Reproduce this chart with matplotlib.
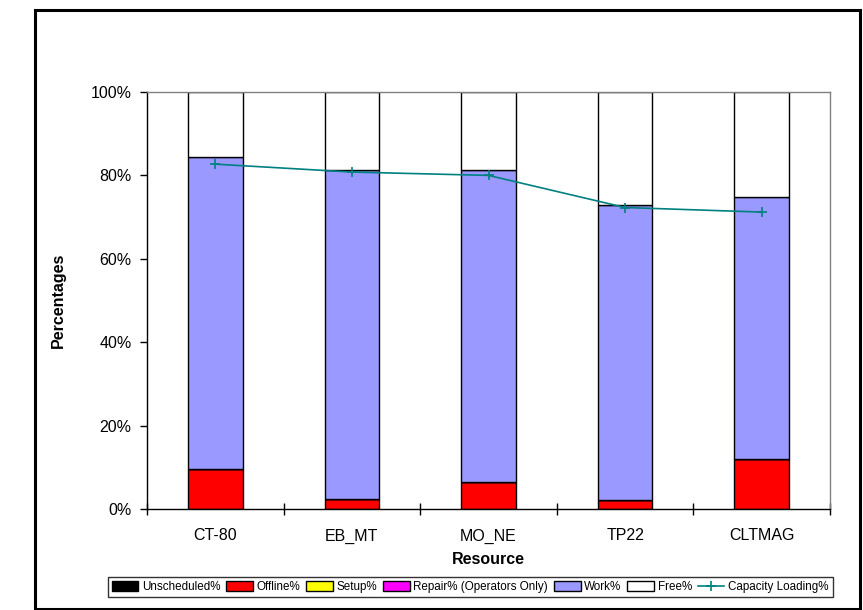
import matplotlib
matplotlib.use("Agg")
import matplotlib.pyplot as plt
from matplotlib.patches import Rectangle
from matplotlib.lines import Line2D
from matplotlib.ticker import FuncFormatter
import numpy as np

plt.rcParams['font.family'] = ['Liberation Sans', 'DejaVu Sans']

resources = ["CT-80", "EB_MT", "MO_NE", "TP22", "CLTMAG"]
unscheduled = [0.0, 0.0, 0.0, 0.0, 0.0]
offline = [9.6, 2.5, 6.5, 2.2, 12.1]
setup = [0.0, 0.0, 0.0, 0.0, 0.0]
repair = [0.0, 0.0, 0.0, 0.0, 0.0]
work = [74.8, 78.8, 74.8, 70.7, 62.8]
capacity_loading = [82.7, 80.8, 80.0, 72.3, 71.2]

free = [100 - (u + o + s + r + w) for u, o, s, r, w in
        zip(unscheduled, offline, setup, repair, work)]

series = [
    ("Unscheduled%", unscheduled, "#000000"),
    ("Offline%", offline, "#ff0000"),
    ("Setup%", setup, "#ffff00"),
    ("Repair% (Operators Only)", repair, "#ff00ff"),
    ("Work%", work, "#9999ff"),
    ("Free%", free, "#ffffff"),
]

fig = plt.figure(figsize=(8.63, 6.10), dpi=100)
ax = fig.add_axes([147 / 863, 1 - 509 / 610, (830 - 147) / 863, (509 - 92) / 610])

x = np.arange(len(resources))
bottom = np.zeros(len(resources))
handles = []
for name, vals, color in series:
    vals = np.array(vals)
    ax.bar(x, vals, width=0.4, bottom=bottom, color=color,
           edgecolor="#000000", linewidth=1.0, zorder=2)
    bottom += vals
    handles.append(Rectangle((0, 0), 1, 1, facecolor=color,
                             edgecolor="#000000", linewidth=1.0, label=name))

ax.plot(x, capacity_loading, color="#008080", linewidth=1.2, marker="+",
        markersize=7, markeredgewidth=1.2, zorder=3)
handles.append(Line2D([], [], color="#008080", linewidth=1.2, marker="+",
                      markersize=7, markeredgewidth=1.2,
                      label="Capacity Loading%"))

ax.set_xlim(-0.5, len(resources) - 0.5)
ax.set_ylim(0, 100)
ax.set_yticks([0, 20, 40, 60, 80, 100])
ax.yaxis.set_major_formatter(FuncFormatter(lambda v, p: f"{int(v)}%"))
ax.set_xticks(x)
ax.set_xticklabels(resources)
ax.set_xticks(np.arange(-0.5, len(resources)), minor=True)
ax.tick_params(axis="x", which="major", length=0, pad=14, labelsize=11.5)
ax.tick_params(axis="x", which="minor", direction="inout", length=8,
               width=1, color="#000000")
ax.tick_params(axis="y", direction="out", length=5, width=1,
               labelsize=11.5, pad=6)

for side in ("top", "right"):
    ax.spines[side].set_color("#808080")
    ax.spines[side].set_linewidth(1.0)
for side in ("left", "bottom"):
    ax.spines[side].set_color("#000000")
    ax.spines[side].set_linewidth(1.0)

ax.set_xlabel("Resource", fontsize=11.5, fontweight="bold", labelpad=6)
ax.set_ylabel("Percentages", fontsize=11.5, fontweight="bold", labelpad=18)

leg = fig.legend(handles=handles, loc="center", ncol=7,
                 bbox_to_anchor=(470 / 863, 1 - 587 / 610),
                 fontsize=8.4, frameon=True, fancybox=False,
                 handlelength=2.3, handleheight=0.9, handletextpad=0.3,
                 columnspacing=0.5, borderpad=0.35, borderaxespad=0)
leg.get_frame().set_edgecolor("#000000")
leg.get_frame().set_linewidth(1.0)

fig.patches.append(Rectangle((35 / 863, 1 - 609 / 610), (860 - 35) / 863,
                             (609 - 10) / 610, transform=fig.transFigure,
                             fill=False, edgecolor="#000000", linewidth=2.2))

fig.savefig("out.png", dpi=100)
